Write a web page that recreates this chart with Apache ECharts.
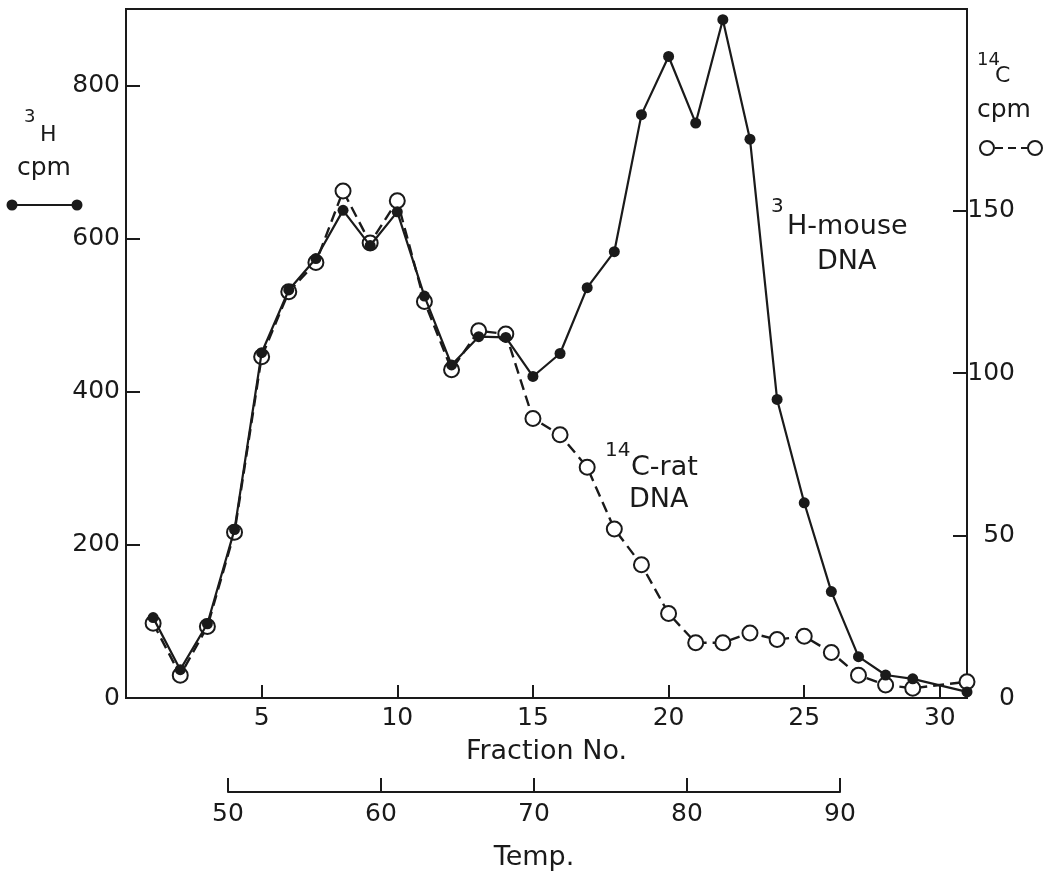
<!DOCTYPE html>
<html lang="en">
<head>
    <meta charset="UTF-8">
    <title>Thermal elution profile</title>
    <script src="https://cdn.jsdelivr.net/npm/echarts@6/dist/echarts.min.js"></script>
    <style>
        html, body { margin: 0; padding: 0; background: #fff; }
        #chart { width: 1050px; height: 877px; }
    </style>
</head>
<body>
<div id="chart"></div>
<script type="text/javascript">
    // fraction numbers (no reading at 30)
    var fractions = [1, 2, 3, 4, 5, 6, 7, 8, 9, 10, 11, 12, 13, 14, 15, 16, 17, 18, 19, 20,
        21, 22, 23, 24, 25, 26, 27, 28, 29, 31];
    // 3H-mouse DNA, cpm (left axis)
    var mouseH3 = [105, 37, 97, 220, 451, 533, 574, 637, 591, 635, 525, 435, 472, 471, 420,
        450, 536, 583, 762, 838, 751, 886, 730, 390, 255, 139, 54, 30, 25, 8];
    // 14C-rat DNA, cpm (right axis)
    var ratC14 = [23, 7, 22, 51, 105, 125, 134, 156, 140, 153, 122, 101, 113, 112, 86,
        81, 71, 52, 41, 26, 17, 17, 20, 18, 19, 14, 7, 4, 3, 5];
    var fractionTicks = [5, 10, 15, 20, 25, 30];
    var tempTicks = [50, 60, 70, 80, 90];
    var leftTicks = [0, 200, 400, 600, 800];
    var rightTicks = [0, 50, 100, 150];

    var ink = '#1a1a1a';
    var font = 'DejaVu Sans';

    function pairs(ys) {
        return fractions.map(function (f, i) { return [f, ys[i]]; });
    }

    function txt(x, y, s, size) {
        return {
            type: 'text', x: x, y: y, silent: true,
            style: { text: s, fill: ink, font: size + 'px "' + font + '"', verticalAlign: 'middle' }
        };
    }

    var chart = echarts.init(document.getElementById('chart'));
    var option = {
        animation: false,
        backgroundColor: '#fff',
        textStyle: { fontFamily: font, color: ink },
        grid: [
            { left: 126, right: 83, top: 9, bottom: 179, show: true, borderColor: ink, borderWidth: 2 },
            { left: 228, right: 210, top: 780, bottom: 85, show: false }
        ],
        xAxis: [{
            type: 'value', gridIndex: 0, min: 0, max: 31, interval: 5,
            name: 'Fraction No.', nameLocation: 'middle', nameGap: 40,
            nameTextStyle: { fontSize: 27, color: ink, fontFamily: font },
            axisLine: { lineStyle: { color: ink, width: 2 } },
            axisTick: { inside: true, length: 13, lineStyle: { color: ink, width: 2 }, customValues: fractionTicks },
            axisLabel: { fontSize: 25, color: ink, margin: 8, customValues: fractionTicks },
            splitLine: { show: false }
        }, {
            type: 'value', gridIndex: 1, min: 50, max: 90, interval: 10,
            name: 'Temp.', nameLocation: 'middle', nameGap: 52,
            nameTextStyle: { fontSize: 27, color: ink, fontFamily: font },
            axisLine: { lineStyle: { color: ink, width: 2 } },
            axisTick: { inside: true, length: 14, lineStyle: { color: ink, width: 2 }, customValues: tempTicks },
            axisLabel: { fontSize: 25, color: ink, margin: 10, customValues: tempTicks },
            splitLine: { show: false }
        }],
        yAxis: [{
            type: 'value', gridIndex: 0, min: 0, max: 900, interval: 200, position: 'left',
            axisLine: { show: true, lineStyle: { color: ink, width: 2 } },
            axisTick: { show: true, inside: true, length: 14, lineStyle: { color: ink, width: 2 }, customValues: leftTicks },
            axisLabel: { fontSize: 25, color: ink, margin: 6, customValues: leftTicks },
            splitLine: { show: false }
        }, {
            type: 'value', gridIndex: 0, min: 0, max: 212, interval: 50, position: 'right',
            axisLine: { show: true, lineStyle: { color: ink, width: 2 } },
            axisTick: { show: true, inside: true, length: 14, lineStyle: { color: ink, width: 2 }, customValues: rightTicks },
            axisLabel: { fontSize: 25, color: ink, margin: 48, align: 'right', customValues: rightTicks },
            splitLine: { show: false }
        }, {
            type: 'value', gridIndex: 1, show: false
        }],
        series: [{
            name: '14C-rat DNA', type: 'line', xAxisIndex: 0, yAxisIndex: 1,
            data: pairs(ratC14),
            symbol: 'circle', symbolSize: 15, z: 2,
            itemStyle: { color: '#fff', borderColor: ink, borderWidth: 2 },
            lineStyle: { color: ink, width: 2.4, type: [11, 6] }
        }, {
            name: '3H-mouse DNA', type: 'line', xAxisIndex: 0, yAxisIndex: 0,
            data: pairs(mouseH3),
            symbol: 'circle', symbolSize: 11, z: 3,
            itemStyle: { color: ink },
            lineStyle: { color: ink, width: 2.2 }
        }],
        graphic: [
            // left axis title + key
            txt(24, 117, '3', 18),
            txt(40, 135, 'H', 22),
            txt(17, 168, 'cpm', 25),
            { type: 'line', silent: true, shape: { x1: 12, y1: 205, x2: 77, y2: 205 }, style: { stroke: ink, lineWidth: 2.2 } },
            { type: 'circle', silent: true, shape: { cx: 12, cy: 205, r: 5.5 }, style: { fill: ink } },
            { type: 'circle', silent: true, shape: { cx: 77, cy: 205, r: 5.5 }, style: { fill: ink } },
            // right axis title + key
            txt(977, 60, '14', 18),
            txt(995, 76, 'C', 22),
            txt(977, 110, 'cpm', 25),
            { type: 'line', silent: true, shape: { x1: 995, y1: 148, x2: 1028, y2: 148 }, style: { stroke: ink, lineWidth: 2.2, lineDash: [8, 5] } },
            { type: 'circle', silent: true, shape: { cx: 987, cy: 148, r: 7 }, style: { fill: '#fff', stroke: ink, lineWidth: 2 } },
            { type: 'circle', silent: true, shape: { cx: 1035, cy: 148, r: 7 }, style: { fill: '#fff', stroke: ink, lineWidth: 2 } },
            // series labels
            txt(771, 207, '3', 20),
            txt(787, 227, 'H-mouse', 27),
            txt(817, 262, 'DNA', 27),
            txt(605, 451, '14', 20),
            txt(631, 468, 'C-rat', 27),
            txt(629, 500, 'DNA', 27)
        ]
    };
    chart.setOption(option);
</script>
</body>
</html>
